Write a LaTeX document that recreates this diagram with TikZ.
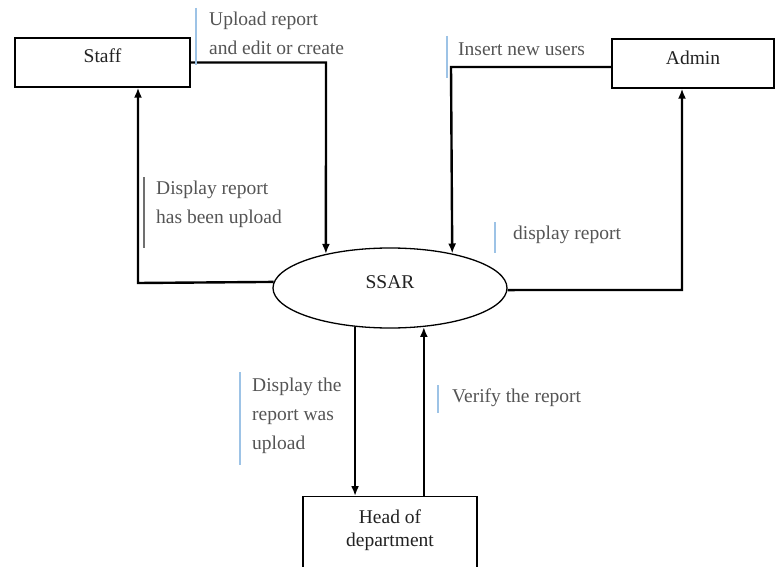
\documentclass[tikz,border=0pt]{standalone}
\usepackage{fontspec}
\setmainfont{Liberation Serif}
\usetikzlibrary{arrows.meta,shapes.geometric}
\definecolor{barblue}{HTML}{9DC3E6}
\definecolor{bargray}{HTML}{707070}
\definecolor{lbltext}{HTML}{555555}
\definecolor{boxtext}{HTML}{222222}
\begin{document}
\begin{tikzpicture}[x=1pt,y=-1pt,
  box/.style={draw=black, line width=1.3pt, rectangle, inner sep=0pt, text=boxtext, font=\fontsize{19.5}{23}\selectfont},
  flow/.style={line width=2.4pt, draw=black},
  arr/.style={flow, -{Latex[length=10pt,width=8pt]}},
  lbl/.style={anchor=base west, inner sep=0pt, text=lbltext, font=\fontsize{19.5}{29}\selectfont, align=left},
  bar/.style={line width=1.5pt, draw=barblue},
  graybar/.style={line width=1.5pt, draw=bargray}]
\useasboundingbox (0,0) rectangle (776,567);
\clip (0,0) rectangle (776,567);
\fill[white] (0,0) rectangle (776,567);

% nodes
\node[box, minimum width=175pt, minimum height=49pt, text height=7pt, text depth=7pt] (staff) at (102.5,62.5) {Staff};
\node[box, minimum width=162pt, minimum height=49pt, text height=8pt, text depth=6pt] (admin) at (693,63.5) {Admin};
\node[ellipse, draw=black, line width=1.3pt, minimum width=234pt, minimum height=80pt, inner sep=0pt, text=boxtext, font=\fontsize{19.5}{23}\selectfont, text height=7pt, text depth=7pt] (ssar) at (390,288) {SSAR};
\node[box, anchor=north, minimum width=174pt, align=center, inner ysep=12.7pt] (head) at (390,496) {Head of\\department\rule[-60pt]{0pt}{0pt}};

% connectors
\coordinate (p1) at (326,62.5);
\draw[arr] (staff.east) -- (p1) -- (ssar.152.4);
\coordinate (p2) at (138,283);
\draw[arr] (ssar.177.5) -- (p2) -- (p2 |- staff.south);
\coordinate (p3) at (451,67);
\draw[arr] (admin.west |- p3) -- (p3) -- (ssar.29.2);
\coordinate (p4) at (682,290);
\draw[arr] (ssar.-1) -- (p4) -- (p4 |- admin.south);
\draw[arr] (ssar.228.4) -- (ssar.228.4 |- head.north);
\draw[arr] (ssar.311.6 |- head.north) -- (ssar.311.6);

% label bars
\draw[bar] (196,8) -- (196,65);
\draw[bar] (447,36) -- (447,78);
\draw[graybar] (144,177) -- (144,248);
\draw[bar] (495,222) -- (495,253);
\draw[bar] (240,372) -- (240,465);
\draw[bar] (438,385) -- (438,413);

% labels (base = baseline of last line)
\node[lbl] (l1) at (209,55) {Upload report\\and edit or create};
\node[lbl] (l2) at (458,56) {Insert new users};
\node[lbl] (l3) at (156,223) {Display report\\has been upload};
\node[lbl] (l4) at (513,239) {display report};
\node[lbl] (l5) at (252,449) {Display the\\report was\\upload};
\node[lbl] (l6) at (452,402) {Verify the report};
\end{tikzpicture}
\end{document}
